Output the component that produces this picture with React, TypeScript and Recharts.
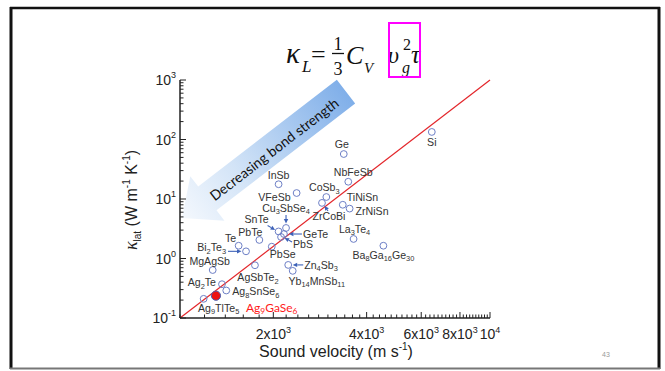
import React from 'react'
import { ReferenceLine, Scatter, ScatterChart, XAxis, YAxis } from 'recharts'

// material names use _n for subscripts
const materials = [
  'Si', 'Ge', 'NbFeSb', 'InSb', 'VFeSb', 'CoSb_3', 'ZrCoBi', 'TiNiSn', 'ZrNiSn',
  'Cu_3SbSe_4', 'SnTe', 'GeTe', 'PbS', 'PbTe', 'PbSe', 'Te', 'Bi_2Te_3', 'MgAgSb',
  'AgSbTe_2', 'Zn_4Sb_3', 'Yb_14MnSb_11', 'Ag_2Te', 'Ag_8SnSe_6', 'Ag_9GaSe_6',
  'Ag_9TlTe_5', 'La_3Te_4', 'Ba_8Ga_16Ge_30',
]
// sound velocity, m/s
const velocity = [
  6490, 3375, 3490, 2080, 2378, 2965, 2871, 3350, 3525,
  2198, 2080, 2164, 2118, 1803, 1977, 1546, 1633, 1275,
  1745, 2234, 2310, 1366, 1410, 1306,
  1192, 3630, 4530,
]
// lattice thermal conductivity, W/m/K
const kappaLat = [
  134, 57, 19.5, 17.7, 12.6, 10.8, 8.6, 8.0, 6.9,
  3.26, 2.85, 2.58, 2.3, 2.05, 1.58, 1.64, 1.32, 0.64,
  0.77, 0.78, 0.62, 0.37, 0.29, 0.237,
  0.21, 2.13, 1.64,
]
const highlighted = 'Ag_9GaSe_6'

// guide line corners
const guideVelocity = [1000, 10000]
const guideKappa = [0.1, 1000]

const xMajor = [2000, 4000, 6000, 8000, 10000]
const xTickLabels = [['2x10', '3'], ['4x10', '3'], ['6x10', '3'], ['8x10', '3'], ['10', '4']]
const yMajor = [0.1, 1, 10, 100, 1000]
const yTickLabels = ['-1', '0', '1', '2', '3']

const xTicks: number[] = []
for (let v = 1000; v <= 10000; v += 200) xTicks.push(v)
const yTicks: number[] = []
yMajor.forEach((d, i) => {
  yTicks.push(d)
  if (i < yMajor.length - 1) for (let m = 2; m <= 9; m++) yTicks.push(+(d * m).toPrecision(3))
})

// label placement: [dx, dy, anchor], arrow [x1, y1, x2, y2] relative to point
const labelLayout: Record<string, [number, number, string, number[]?]> = {
  Si: [0, 14, 'middle'],
  Ge: [-2, -6, 'middle'],
  NbFeSb: [5, -6, 'middle'],
  InSb: [0, -5, 'middle'],
  VFeSb: [-6, 8, 'end'],
  CoSb_3: [-2, -6, 'middle'],
  ZrCoBi: [7, 17, 'middle', [6, 8, 2.5, 3]],
  TiNiSn: [4, -4, 'start'],
  ZrNiSn: [6, 6, 'start'],
  Cu_3SbSe_4: [0, -16, 'middle', [0, -13, 0, -4.5]],
  SnTe: [-22, -8, 'middle', [-11, -6, -3.5, -1.5]],
  GeTe: [19, 4, 'start', [18, 0, 5, 0]],
  PbS: [12, 11, 'start', [11, 5, 3.5, 1]],
  PbTe: [-9, -4, 'middle'],
  PbSe: [11, 11, 'middle'],
  Te: [-8, -4, 'middle'],
  Bi_2Te_3: [-20, 0, 'end', [-18, 0, -4.5, 0]],
  MgAgSb: [-3, -5, 'middle'],
  AgSbTe_2: [3, 16, 'middle'],
  Zn_4Sb_3: [16, 4, 'start', [15, 0, 4.5, 0]],
  Yb_14MnSb_11: [24, 14, 'middle'],
  Ag_2Te: [-6, 2, 'end'],
  Ag_8SnSe_6: [6, 5, 'start'],
  Ag_9GaSe_6: [30, 16, 'start'],
  Ag_9TlTe_5: [15, 13, 'middle'],
  La_3Te_4: [1, -6, 'middle'],
  Ba_8Ga_16Ge_30: [0, 13, 'middle'],
}

const data = materials.map((name, i) => ({ name, v: velocity[i], k: kappaLat[i] }))

const AX = '#222'
const SANS = '"Liberation Sans", Arial, sans-serif'
const MARKER = '#6d7fc6'
const ARROW = '#3d62b8'

function Formula({ text, size, color, font }: { text: string; size: number; color: string; font: string }) {
  const parts = text.split(/_(\d+)/)
  return (
    <>
      {parts.map((p, i) =>
        i % 2 === 1 ? (
          <tspan key={i} fontSize={size * 0.7} dy={2.5} fill={color} fontFamily={font}>{p}</tspan>
        ) : (
          <tspan key={i} dy={i === 0 ? 0 : -2.5} fontSize={size} fill={color} fontFamily={font}>{p}</tspan>
        ),
      )}
    </>
  )
}

function MaterialPoint(props: any) {
  const { cx, cy, payload } = props
  if (cx == null || cy == null) return null
  const name: string = payload.name
  const [dx, dy, anchor, arrow] = labelLayout[name] || [0, -6, 'middle']
  const hi = name === highlighted
  let head = null
  if (arrow) {
    const [x1, y1, x2, y2] = arrow
    const ang = Math.atan2(y2 - y1, x2 - x1)
    const L = 4.5
    const W = 2.2
    const bx = cx + x2 - L * Math.cos(ang)
    const by = cy + y2 - L * Math.sin(ang)
    const pts = [
      [cx + x2, cy + y2],
      [bx - W * Math.sin(ang), by + W * Math.cos(ang)],
      [bx + W * Math.sin(ang), by - W * Math.cos(ang)],
    ]
    head = (
      <g>
        <line x1={cx + x1} y1={cy + y1} x2={bx} y2={by} stroke={ARROW} strokeWidth={1.1} />
        <polygon points={pts.map((p) => p.join(',')).join(' ')} fill={ARROW} />
      </g>
    )
  }
  return (
    <g>
      {hi ? (
        <circle cx={cx} cy={cy} r={4.6} fill="#ee1111" stroke="#4a5fb0" strokeWidth={1} />
      ) : (
        <circle cx={cx} cy={cy} r={3.4} fill="none" stroke={MARKER} strokeWidth={1} />
      )}
      {head}
      <text x={cx + dx} y={cy + dy} textAnchor={anchor as any}>
        <Formula
          text={name}
          size={hi ? 12 : 10.6}
          color={hi ? '#ff1a1a' : '#333'}
          font={hi ? 'Lato, "Open Sans", sans-serif' : SANS}
        />
      </text>
    </g>
  )
}

function BottomTick({ x, y, payload }: any) {
  const idx = xMajor.indexOf(payload.value)
  const major = idx >= 0
  return (
    <g>
      <line x1={x} x2={x} y1={y} y2={y - (major ? 6 : 3.5)} stroke={AX} strokeWidth={1} />
      {major && (
        <text x={x} y={y + 21} textAnchor="middle" fontFamily={SANS} fontSize={14} fill="#222">
          {xTickLabels[idx][0]}
          <tspan fontSize={9} dy={-6}>{xTickLabels[idx][1]}</tspan>
        </text>
      )}
    </g>
  )
}

function TopTick({ x, y, payload }: any) {
  const major = xMajor.includes(payload.value)
  return <line x1={x} x2={x} y1={y} y2={y + (major ? 6 : 3.5)} stroke={AX} strokeWidth={1} />
}

function LeftTick({ x, y, payload }: any) {
  const idx = yMajor.indexOf(payload.value)
  const major = idx >= 0
  return (
    <g>
      <line x1={x} x2={x + (major ? 6 : 3.5)} y1={y} y2={y} stroke={AX} strokeWidth={1} />
      {major && (
        <text x={x - 4} y={y + 5} textAnchor="end" fontFamily={SANS} fontSize={14} fill="#222">
          10
          <tspan fontSize={9} dy={-7}>{yTickLabels[idx]}</tspan>
        </text>
      )}
    </g>
  )
}

function RightTick({ x, y, payload }: any) {
  const major = yMajor.includes(payload.value)
  return <line x1={x} x2={x - (major ? 6 : 3.5)} y1={y} y2={y} stroke={AX} strokeWidth={1} />
}

function BondArrow() {
  // big faded arrow: tip lower-left, tail upper-right
  const tipX = 182
  const tipY = 218
  const ang = -37.6
  return (
    <svg width={665} height={371} style={{ position: 'absolute', left: 0, top: 0 }}>
      <defs>
        <linearGradient id="bondGrad" x1="0" y1="0" x2="1" y2="0">
          <stop offset="0" stopColor="#f4f8fd" />
          <stop offset="0.35" stopColor="#d3e4f7" />
          <stop offset="1" stopColor="#80afe9" />
        </linearGradient>
      </defs>
      <g transform={`translate(${tipX},${tipY}) rotate(${ang})`}>
        <polygon
          points="0,0 32,-28 32,-15 207,-15 207,15 32,15 32,28"
          fill="url(#bondGrad)"
        />
      </g>
    </svg>
  )
}

function Overlay() {
  const serif = '"Liberation Serif", "DejaVu Serif", serif'
  return (
    <svg width={665} height={371} style={{ position: 'absolute', left: 0, top: 0, pointerEvents: 'none' }}>
      {/* slide frame */}
      <line x1={11} y1={7} x2={11} y2={369} stroke="#111" strokeWidth={3} />
      <line x1={10} y1={8} x2={660} y2={8} stroke="#111" strokeWidth={2.5} />
      <line x1={659} y1={7} x2={659} y2={369} stroke="#111" strokeWidth={3} />
      <line x1={10} y1={368.5} x2={660} y2={368.5} stroke="#777" strokeWidth={2} />

      {/* formula */}
      <g fontFamily={serif} fill="#111">
        <text x={286} y={63} fontSize={29} fontStyle="italic">κ</text>
        <text x={302} y={72} fontSize={17} fontStyle="italic">L</text>
        <text x={311} y={63} fontSize={26}>=</text>
        <text x={338} y={50} fontSize={18} textAnchor="middle">1</text>
        <line x1={332} x2={344} y1={53.5} y2={53.5} stroke="#111" strokeWidth={1.3} />
        <text x={338} y={75} fontSize={18} textAnchor="middle">3</text>
        <text x={346} y={64} fontSize={26} fontStyle="italic">C</text>
        <text x={364} y={73} fontSize={15} fontStyle="italic">V</text>
        <text x={388} y={63} fontSize={24} fontStyle="italic">υ</text>
        <text x={402} y={73} fontSize={16} fontStyle="italic">g</text>
        <text x={403} y={50} fontSize={16}>2</text>
        <text x={411} y={63} fontSize={25} fontStyle="italic">τ</text>
      </g>
      <rect x={389} y={23} width={31} height={54} fill="none" stroke="#ff00ff" strokeWidth={2} />

      {/* arrow caption */}
      <text
        x={274}
        y={149}
        transform="rotate(-37.6 274 149)"
        textAnchor="middle"
        dominantBaseline="central"
        fontFamily='Lato, "Open Sans", sans-serif'
        fontSize={14}
        fill="#111"
      >
        Decreasing bond strength
      </text>

      {/* axis titles */}
      <text x={336} y={357} textAnchor="middle" fontFamily={SANS} fontSize={16} fill="#222">
        Sound velocity (m s<tspan fontSize={10} dy={-7}>-1</tspan>
        <tspan dy={7}>)</tspan>
      </text>
      <text
        x={137}
        y={200}
        transform="rotate(-90 137 200)"
        textAnchor="middle"
        fontFamily={SANS}
        fontSize={16}
        fill="#222"
      >
        <tspan fontStyle="italic" fontFamily={serif} fontSize={18}>κ</tspan>
        <tspan fontSize={10} dy={4}>lat</tspan>
        <tspan dy={-4}> (W m</tspan>
        <tspan fontSize={10} dy={-7}>-1</tspan>
        <tspan dy={7}> K</tspan>
        <tspan fontSize={10} dy={-7}>-1</tspan>
        <tspan dy={7}>)</tspan>
      </text>

      <text x={606} y={357} textAnchor="middle" fontFamily={SANS} fontSize={7} fill="#999">43</text>
    </svg>
  )
}

export default function App() {
  return (
    <div style={{ position: 'absolute', left: 0, top: 0, width: 665, height: 371, background: '#fff' }}>
      <BondArrow />
      <div style={{ position: 'absolute', left: 0, top: 0 }}>
        <ScatterChart width={665} height={371} margin={{ top: 80, right: 175, bottom: 0, left: 0 }}>
          <XAxis
            xAxisId="b"
            dataKey="v"
            type="number"
            scale="log"
            domain={[1000, 10000]}
            allowDataOverflow
            ticks={xTicks}
            interval={0}
            tick={<BottomTick />}
            tickLine={false}
            tickSize={0}
            tickMargin={0}
            height={53}
            axisLine={{ stroke: AX, strokeWidth: 1.5 }}
          />
          <XAxis
            xAxisId="t"
            orientation="top"
            type="number"
            scale="log"
            domain={[1000, 10000]}
            allowDataOverflow
            ticks={xTicks}
            interval={0}
            tick={<TopTick />}
            tickLine={false}
            tickSize={0}
            tickMargin={0}
            height={0}
            axisLine={{ stroke: AX, strokeWidth: 1.5 }}
          />
          <YAxis
            yAxisId="l"
            dataKey="k"
            type="number"
            scale="log"
            domain={[0.1, 1000]}
            allowDataOverflow
            ticks={yTicks}
            interval={0}
            tick={<LeftTick />}
            tickLine={false}
            tickSize={0}
            tickMargin={0}
            width={180}
            axisLine={{ stroke: AX, strokeWidth: 1.5 }}
          />
          <YAxis
            yAxisId="r"
            orientation="right"
            type="number"
            scale="log"
            domain={[0.1, 1000]}
            allowDataOverflow
            ticks={yTicks}
            interval={0}
            tick={<RightTick />}
            tickLine={false}
            tickSize={0}
            tickMargin={0}
            width={0}
            axisLine={{ stroke: AX, strokeWidth: 1.5 }}
          />
          <ReferenceLine
            xAxisId="b"
            yAxisId="l"
            segment={[
              { x: guideVelocity[0], y: guideKappa[0] },
              { x: guideVelocity[1], y: guideKappa[1] },
            ]}
            stroke="#e3262b"
            strokeWidth={1.2}
            ifOverflow="visible"
          />
          <Scatter
            xAxisId="b"
            yAxisId="l"
            data={data}
            isAnimationActive={false}
            shape={(p: any) => <MaterialPoint {...p} />}
          />
        </ScatterChart>
      </div>
      <Overlay />
    </div>
  )
}
